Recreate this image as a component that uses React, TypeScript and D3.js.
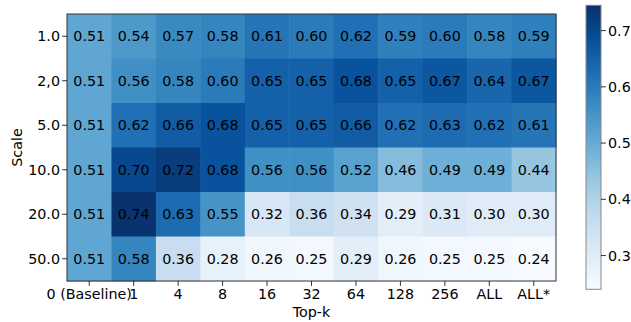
import React from "react";
import * as d3 from "d3";

// Heatmap of score by scale (rows) and top-k (columns)
const scales = ["1.0", "2,0", "5.0", "10.0", "20.0", "50.0"];
const topK = ["0 (Baseline)", "1", "4", "8", "16", "32", "64", "128", "256", "ALL", "ALL*"];

const row1 = [0.51, 0.54, 0.57, 0.58, 0.61, 0.60, 0.62, 0.59, 0.60, 0.58, 0.59];
const row2 = [0.51, 0.56, 0.58, 0.60, 0.65, 0.65, 0.68, 0.65, 0.67, 0.64, 0.67];
const row5 = [0.51, 0.62, 0.66, 0.68, 0.65, 0.65, 0.66, 0.62, 0.63, 0.62, 0.61];
const row10 = [0.51, 0.70, 0.72, 0.68, 0.56, 0.56, 0.52, 0.46, 0.49, 0.49, 0.44];
const row20 = [0.51, 0.74, 0.63, 0.55, 0.32, 0.36, 0.34, 0.29, 0.31, 0.30, 0.30];
const row50 = [0.51, 0.58, 0.36, 0.28, 0.26, 0.25, 0.29, 0.26, 0.25, 0.25, 0.24];
const rows = [row1, row2, row5, row10, row20, row50];

const colorbarTicks = [0.3, 0.4, 0.5, 0.6, 0.7];
const vmin = 0.24;
const vmax = 0.745;

// ColorBrewer Blues, interpolated linearly between anchors
const bluesAnchors = ["#f7fbff", "#deebf7", "#c6dbef", "#9ecae1", "#6baed6", "#4292c6", "#2171b5", "#08519c", "#08306b"];

const W = 631;
const H = 322;
const plot = { left: 67, right: 556, top: 14, bottom: 281 };
const cbar = { left: 586, right: 601, top: 5.3, bottom: 289.3 };
const font = "'DejaVu Sans', sans-serif";
const fs = 14.3;

export default function App() {
  const x = d3.scaleBand<string>().domain(topK).range([plot.left, plot.right]);
  const y = d3.scaleBand<string>().domain(scales).range([plot.top, plot.bottom]);
  const t = d3.scaleLinear().domain([vmin, vmax]).range([0, 1]).clamp(true);
  const blues = d3
    .scaleLinear<string>()
    .domain(bluesAnchors.map((_, i) => i / (bluesAnchors.length - 1)))
    .range(bluesAnchors)
    .interpolate(d3.interpolateRgb);
  const color = (v: number) => blues(t(v));
  const cy = d3.scaleLinear().domain([vmin, vmax]).range([cbar.bottom, cbar.top]);
  const gradStops = d3.range(0, 1.0001, 0.05);

  return (
    <svg
      width={W}
      height={H}
      style={{ position: "absolute", left: 0, top: 0, background: "#fff" }}
      fontFamily={font}
    >
      <defs>
        <linearGradient id="cbarGrad" x1="0" y1="1" x2="0" y2="0">
          {gradStops.map((s) => (
            <stop key={s} offset={s} stopColor={blues(s)} />
          ))}
        </linearGradient>
      </defs>

      {/* cells */}
      {rows.map((vals, ri) =>
        vals.map((v, ci) => (
          <rect
            key={`c${ri}-${ci}`}
            x={x(topK[ci])}
            y={y(scales[ri])}
            width={x.bandwidth() + 0.5}
            height={y.bandwidth() + 0.5}
            fill={color(v)}
          />
        ))
      )}
      {rows.map((vals, ri) =>
        vals.map((v, ci) => (
          <text
            key={`t${ri}-${ci}`}
            x={(x(topK[ci]) as number) + x.bandwidth() / 2}
            y={(y(scales[ri]) as number) + y.bandwidth() / 2}
            dy="0.36em"
            textAnchor="middle"
            fontSize={fs}
            fill="#000"
          >
            {v.toFixed(2)}
          </text>
        ))
      )}
      <rect
        x={plot.left}
        y={plot.top}
        width={plot.right - plot.left}
        height={plot.bottom - plot.top}
        fill="none"
        stroke="#333"
        strokeWidth={1}
      />

      {/* y axis */}
      {scales.map((s) => {
        const yy = (y(s) as number) + y.bandwidth() / 2;
        return (
          <g key={`y${s}`}>
            <line x1={plot.left - 4.9} x2={plot.left} y1={yy} y2={yy} stroke="#000" strokeWidth={0.8} />
            <text x={plot.left - 7} y={yy} dy="0.36em" textAnchor="end" fontSize={fs} fill="#000">
              {s}
            </text>
          </g>
        );
      })}
      <text
        transform={`translate(${22},${(plot.top + plot.bottom) / 2}) rotate(-90)`}
        textAnchor="middle"
        fontSize={fs}
        fill="#000"
      >
        Scale
      </text>

      {/* x axis */}
      {topK.map((k) => {
        const xx = (x(k) as number) + x.bandwidth() / 2;
        return (
          <g key={`x${k}`}>
            <line x1={xx} x2={xx} y1={plot.bottom} y2={plot.bottom + 4.9} stroke="#000" strokeWidth={0.8} />
            <text x={xx} y={299} textAnchor="middle" fontSize={fs} fill="#000">
              {k}
            </text>
          </g>
        );
      })}
      <text x={(plot.left + plot.right) / 2} y={317} textAnchor="middle" fontSize={fs} fill="#000">
        Top-k
      </text>

      {/* colorbar */}
      <rect
        x={cbar.left}
        y={cbar.top}
        width={cbar.right - cbar.left}
        height={cbar.bottom - cbar.top}
        fill="url(#cbarGrad)"
        stroke="#888"
        strokeWidth={1}
      />
      {colorbarTicks.map((v) => (
        <g key={`cb${v}`}>
          <line x1={cbar.right} x2={cbar.right + 4.9} y1={cy(v)} y2={cy(v)} stroke="#000" strokeWidth={0.8} />
          <text x={cbar.right + 7} y={cy(v)} dy="0.36em" fontSize={fs} fill="#000">
            {v.toFixed(1)}
          </text>
        </g>
      ))}
    </svg>
  );
}
